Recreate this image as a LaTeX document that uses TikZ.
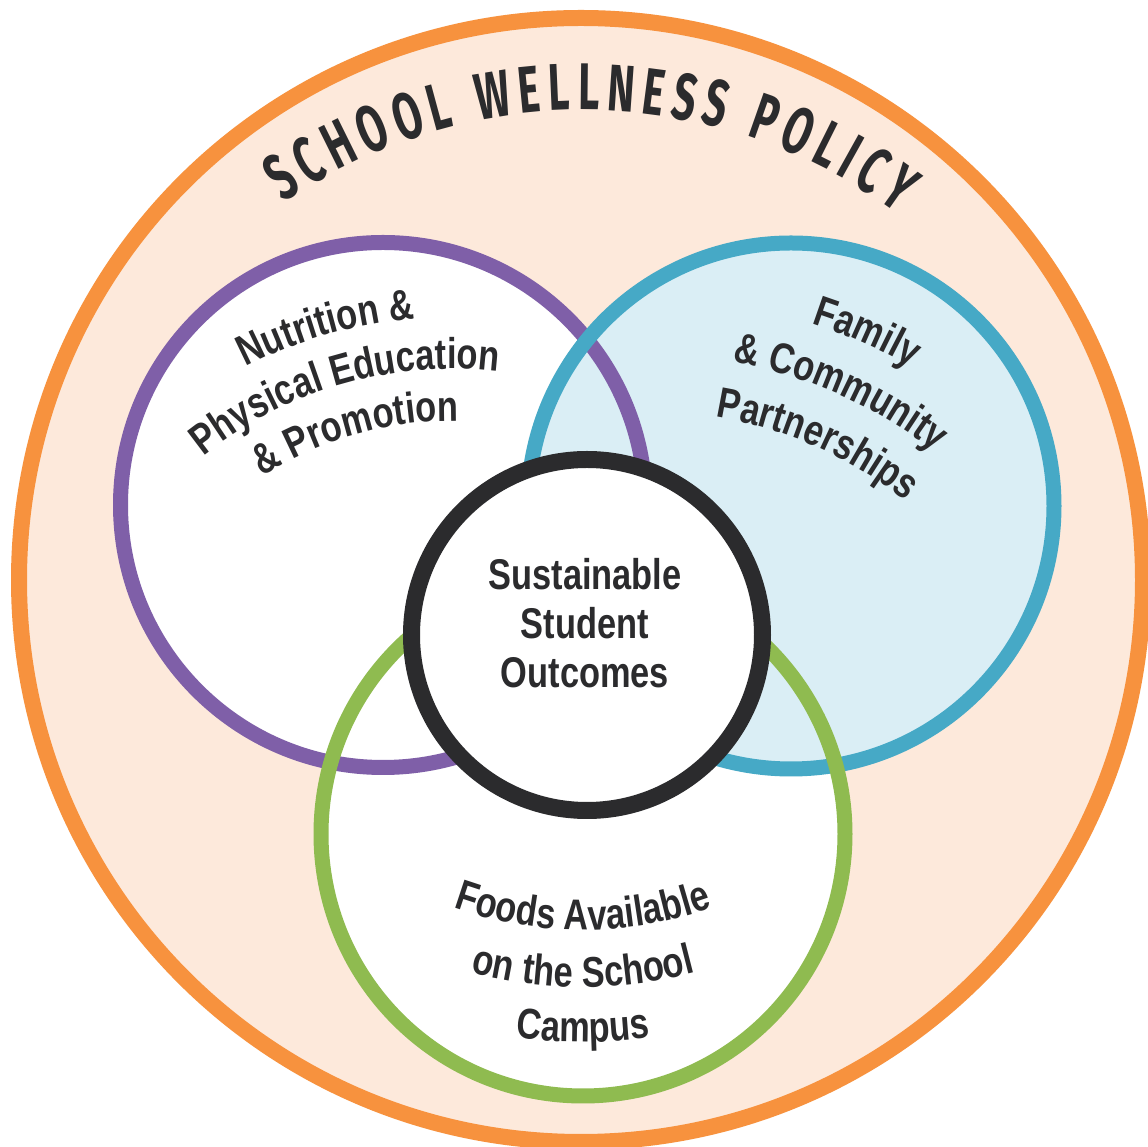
\documentclass[tikz,border=0pt]{standalone}
\usepackage{fontspec}
\usetikzlibrary{decorations.text}
\newfontfamily\titlefont[FakeStretch=0.62]{Fira Sans}
\newfontfamily\labelfont[FakeStretch=0.8]{Liberation Sans}
\definecolor{ringorange}{HTML}{F7923E}
\definecolor{peach}{HTML}{FDE9DB}
\definecolor{ringpurple}{HTML}{7F5FA8}
\definecolor{ringblue}{HTML}{46A9C6}
\definecolor{paleblue}{HTML}{DAEEF5}
\definecolor{ringgreen}{HTML}{8FBB50}
\definecolor{ink}{HTML}{2B2B2D}
\begin{document}
\begin{tikzpicture}[x=0.5pt,y=0.5pt,
  ringline/.style={line width=7.5pt, draw=#1},
  labelline/.style={decorate, decoration={text along path, text align=center, text color=ink,
     text={|\labelfont\bfseries\fontsize{21.5}{24.5}\selectfont|#1}}},
  titleline/.style={decorate, decoration={text along path, text align={fit to path}, text color=ink,
     text={|\titlefont\bfseries\fontsize{33}{33}\selectfont|#1}}}]
\useasboundingbox (0,0) rectangle (1148,1147);
\fill[white] (0,0) rectangle (1148,1147);
% centres
\coordinate (outerC) at (581,567);
\coordinate (purpleC) at (383,642);
\coordinate (blueC) at (791,641);
\coordinate (greenC) at (583,313);
\coordinate (coreC) at (587,512);
\coordinate (titleC) at (583,509);
\coordinate (purpleT) at (452,380);
\coordinate (blueT) at (652,331);
\coordinate (foodT) at (583,597);
% outer ring
\draw[line width=8pt, draw=ringorange, fill=peach] (outerC) circle[radius=562];
% fills
\fill[white] (greenC) circle[radius=262];
\fill[white] (purpleC) circle[radius=262.5];
\fill[paleblue] (blueC) circle[radius=263];
% strokes
\draw[ringline=ringpurple] (purpleC) circle[radius=262.5];
\draw[ringline=ringblue] (blueC) circle[radius=263];
\draw[ringline=ringgreen] (greenC) circle[radius=262];
% core
\draw[line width=8.5pt, draw=ink, fill=white] (coreC) circle[radius=175.5];
% title
\path[titleline={SCHOOL WELLNESS POLICY}] (titleC) ++(124.5:528) arc[start angle=124.5, end angle=53.5, radius=528];
% centre text
\node[font=\labelfont\bfseries\fontsize{21.5}{24.5}\selectfont, text=ink, align=center] (core) at (585,524) {Sustainable\\Student\\Outcomes};
% purple text
\path[labelline={Nutrition {\&}}] (purpleT) ++(141:450) arc[start angle=141, end angle=71, radius=450];
\path[labelline={Physical Education}] (purpleT) ++(146:398) arc[start angle=146, end angle=66, radius=398];
\path[labelline={{\&} Promotion}] (purpleT) ++(146:346) arc[start angle=146, end angle=66, radius=346];
% blue text
\path[labelline={Family}] (blueT) ++(101:518) arc[start angle=101, end angle=31, radius=518];
\path[labelline={{\&} Community}] (blueT) ++(106:461) arc[start angle=106, end angle=26, radius=461];
\path[labelline={Partnerships}] (blueT) ++(106:404) arc[start angle=106, end angle=26, radius=404];
% green text
\path[labelline={Foods Available}] (foodT) ++(230:380) arc[start angle=230, end angle=310, radius=380];
\path[labelline={on the School}] (foodT) ++(230:437) arc[start angle=230, end angle=310, radius=437];
\path[labelline={Campus}] (foodT) ++(230:492) arc[start angle=230, end angle=310, radius=492];
\end{tikzpicture}
\end{document}
